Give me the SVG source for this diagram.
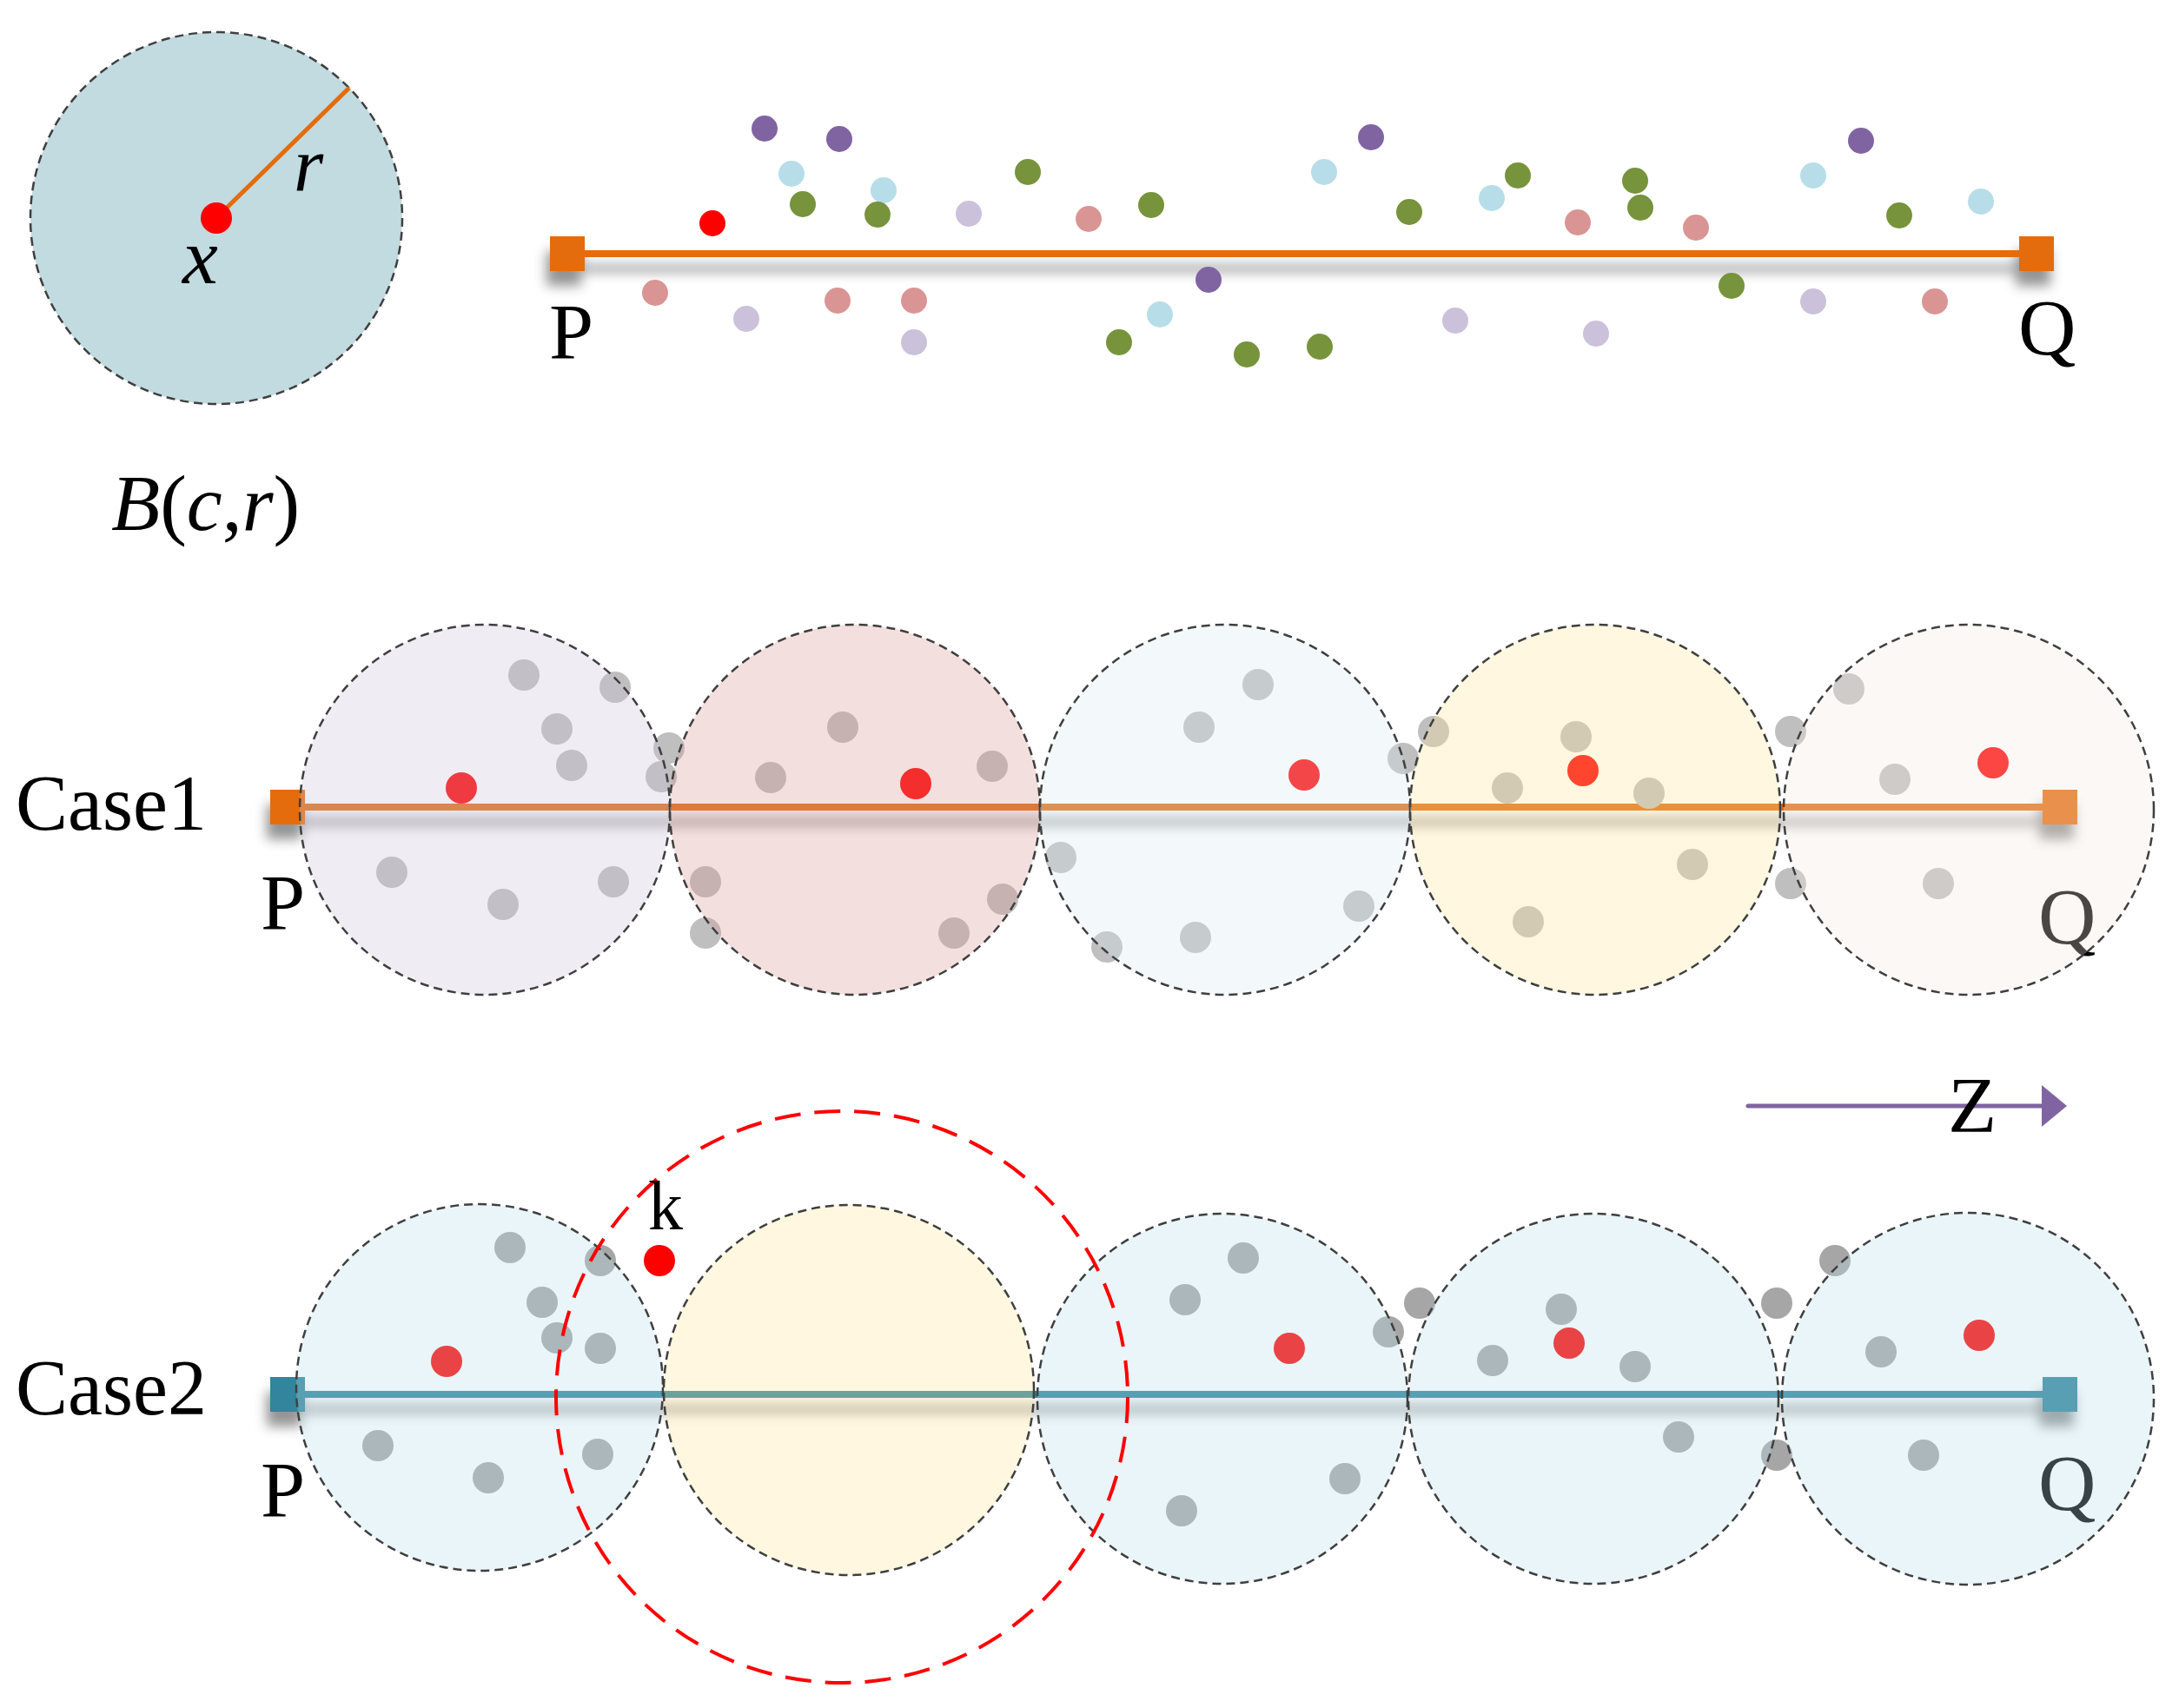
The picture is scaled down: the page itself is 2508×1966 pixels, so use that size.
<svg xmlns="http://www.w3.org/2000/svg" width="2508" height="1966" viewBox="0 0 2508 1966">
<style>
.t{font-family:"Liberation Serif","Times New Roman",serif;fill:#000}
.it{font-style:italic}
.ball{stroke:#3f3f3f;stroke-width:2.5;stroke-dasharray:10 6}
.g1{fill:#bfbfbf}
.g2{fill:#a6a6a6}
.rd{fill:#ff0000}
.pu{fill:#8064a2}
.lb{fill:#b7dee8}
.gr{fill:#77933c}
.lp{fill:#ccc1da}
.sa{fill:#d99594}
</style>
<defs>
<filter id="sh" x="-5%" y="-150%" width="110%" height="450%">
<feGaussianBlur in="SourceAlpha" stdDeviation="7"/>
<feOffset dx="-4" dy="17" result="b"/>
<feFlood flood-color="#000" flood-opacity="0.42"/>
<feComposite in2="b" operator="in"/>
<feMerge><feMergeNode/><feMergeNode in="SourceGraphic"/></feMerge>
</filter>
</defs>
<rect width="2508" height="1966" fill="#fff"/>

<g id="ball-legend">
<circle class="ball" cx="249" cy="251" r="214" fill="#c1dbe0"/>
<line x1="249" y1="251" x2="402" y2="101" stroke="#e46c0a" stroke-width="5"/>
<circle cx="249" cy="251" r="18" class="rd"/>
<text class="t it" x="338" y="219" font-size="88">r</text>
<text class="t it" x="210" y="326" font-size="92">x</text>
<text class="t" x="128" y="610" font-size="92"><tspan font-style="italic">B</tspan>(<tspan font-style="italic">c</tspan>,<tspan font-style="italic">r</tspan>)</text>
</g>

<g id="top-segment">
<g filter="url(#sh)">
<line x1="653" y1="292" x2="2344" y2="292" stroke="#e46c0a" stroke-width="8"/>
<rect x="633" y="272" width="40" height="40" fill="#e46c0a"/>
<rect x="2324" y="272" width="40" height="40" fill="#e46c0a"/>
</g>
<text class="t" x="632" y="413" font-size="92">P</text>
<text class="t" x="2323" y="408" font-size="92">Q</text>
</g>

<g id="top-points">
<circle class="pu" cx="880" cy="148" r="15"/>
<circle class="pu" cx="966" cy="160" r="15"/>
<circle class="pu" cx="1578" cy="158" r="15"/>
<circle class="pu" cx="2142" cy="162" r="15"/>
<circle class="pu" cx="1391" cy="322" r="15"/>
<circle class="lb" cx="911" cy="200" r="15"/>
<circle class="lb" cx="1017" cy="219" r="15"/>
<circle class="lb" cx="1335" cy="362" r="15"/>
<circle class="lb" cx="1524" cy="198" r="15"/>
<circle class="lb" cx="1717" cy="228" r="15"/>
<circle class="lb" cx="2087" cy="202" r="15"/>
<circle class="lb" cx="2280" cy="232" r="15"/>
<circle class="gr" cx="924" cy="235" r="15"/>
<circle class="gr" cx="1010" cy="247" r="15"/>
<circle class="gr" cx="1183" cy="198" r="15"/>
<circle class="gr" cx="1325" cy="236" r="15"/>
<circle class="gr" cx="1288" cy="394" r="15"/>
<circle class="gr" cx="1435" cy="408" r="15"/>
<circle class="gr" cx="1519" cy="399" r="15"/>
<circle class="gr" cx="1622" cy="244" r="15"/>
<circle class="gr" cx="1747" cy="202" r="15"/>
<circle class="gr" cx="1882" cy="208" r="15"/>
<circle class="gr" cx="1888" cy="239" r="15"/>
<circle class="gr" cx="2186" cy="248" r="15"/>
<circle class="gr" cx="1993" cy="329" r="15"/>
<circle class="lp" cx="1115" cy="246" r="15"/>
<circle class="lp" cx="859" cy="367" r="15"/>
<circle class="lp" cx="1052" cy="394" r="15"/>
<circle class="lp" cx="1675" cy="369" r="15"/>
<circle class="lp" cx="1837" cy="384" r="15"/>
<circle class="lp" cx="2087" cy="347" r="15"/>
<circle class="sa" cx="1253" cy="252" r="15"/>
<circle class="sa" cx="754" cy="337" r="15"/>
<circle class="sa" cx="964" cy="346" r="15"/>
<circle class="sa" cx="1052" cy="346" r="15"/>
<circle class="sa" cx="1816" cy="256" r="15"/>
<circle class="sa" cx="1952" cy="262" r="15"/>
<circle class="sa" cx="2227" cy="347" r="15"/>
<circle class="rd" cx="820" cy="257" r="15"/>
</g>

<g id="case1">
<text class="t" x="18" y="955" font-size="90">Case1</text>
<g filter="url(#sh)">
<line x1="331" y1="929" x2="2371" y2="929" stroke="#e46c0a" stroke-width="8"/>
<rect x="311" y="909" width="40" height="40" fill="#e46c0a"/>
<rect x="2351" y="909" width="40" height="40" fill="#e46c0a"/>
</g>
<text class="t" x="300" y="1070" font-size="92">P</text>
<text class="t" x="2346" y="1086" font-size="92">Q</text>
<g id="case1-points">
<circle class="g1" cx="603" cy="777" r="18"/>
<circle class="g1" cx="708" cy="791" r="18"/>
<circle class="g1" cx="641" cy="839" r="18"/>
<circle class="g1" cx="658" cy="881" r="18"/>
<circle class="g1" cx="770" cy="861" r="18"/>
<circle class="g1" cx="761" cy="894" r="18"/>
<circle class="g1" cx="451" cy="1004" r="18"/>
<circle class="g1" cx="579" cy="1041" r="18"/>
<circle class="g1" cx="706" cy="1015" r="18"/>
<circle class="g1" cx="970" cy="837" r="18"/>
<circle class="g1" cx="887" cy="895" r="18"/>
<circle class="g1" cx="1142" cy="882" r="18"/>
<circle class="g1" cx="812" cy="1015" r="18"/>
<circle class="g1" cx="812" cy="1074" r="18"/>
<circle class="g1" cx="1154" cy="1035" r="18"/>
<circle class="g1" cx="1098" cy="1074" r="18"/>
<circle class="g1" cx="1448" cy="788" r="18"/>
<circle class="g1" cx="1380" cy="837" r="18"/>
<circle class="g1" cx="1615" cy="873" r="18"/>
<circle class="g1" cx="1221" cy="987" r="18"/>
<circle class="g1" cx="1564" cy="1043" r="18"/>
<circle class="g1" cx="1376" cy="1079" r="18"/>
<circle class="g1" cx="1274" cy="1090" r="18"/>
<circle class="g1" cx="1650" cy="842" r="18"/>
<circle class="g1" cx="1814" cy="848" r="18"/>
<circle class="g1" cx="1735" cy="907" r="18"/>
<circle class="g1" cx="1898" cy="913" r="18"/>
<circle class="g1" cx="1948" cy="995" r="18"/>
<circle class="g1" cx="1759" cy="1061" r="18"/>
<circle class="g1" cx="2128" cy="793" r="18"/>
<circle class="g1" cx="2061" cy="842" r="18"/>
<circle class="g1" cx="2181" cy="897" r="18"/>
<circle class="g1" cx="2061" cy="1017" r="18"/>
<circle class="g1" cx="2231" cy="1017" r="18"/>
<circle class="rd" cx="531" cy="907" r="18"/>
<circle class="rd" cx="1054" cy="902" r="18"/>
<circle class="rd" cx="1501" cy="892" r="18"/>
<circle class="rd" cx="1822" cy="887" r="18"/>
<circle class="rd" cx="2294" cy="878" r="18"/>
</g>
<g id="case1-balls" fill-opacity="0.3">
<circle class="ball" cx="558" cy="932" r="213" fill="#ccc1da"/>
<circle class="ball" cx="984" cy="932" r="213" fill="#d99594"/>
<circle class="ball" cx="1410" cy="932" r="213" fill="#d7e8f2"/>
<circle class="ball" cx="1836" cy="932" r="213" fill="#ffe699"/>
<circle class="ball" cx="2266" cy="932" r="213" fill="#f5e8de"/>
</g>
</g>

<g id="connectors">
<line x1="2012" y1="1273" x2="2352" y2="1273" stroke="#8064a2" stroke-width="5" stroke-linecap="round"/>
<polygon points="2350,1249 2379,1273 2350,1297" fill="#8064a2"/>
</g>
<text class="t" x="2242" y="1303" font-size="92">Z</text>

<g id="case2">
<text class="t" x="18" y="1628" font-size="90">Case2</text>
<g filter="url(#sh)">
<line x1="331" y1="1605" x2="2371" y2="1605" stroke="#31859c" stroke-width="8"/>
<rect x="311" y="1585" width="40" height="40" fill="#31859c"/>
<rect x="2351" y="1585" width="40" height="40" fill="#31859c"/>
</g>
<text class="t" x="300" y="1746" font-size="92">P</text>
<text class="t" x="2346" y="1738" font-size="92">Q</text>
<g id="case2-points">
<circle class="g2" cx="587" cy="1436" r="18"/>
<circle class="g2" cx="691" cy="1451" r="18"/>
<circle class="g2" cx="624" cy="1499" r="18"/>
<circle class="g2" cx="641" cy="1540" r="18"/>
<circle class="g2" cx="691" cy="1552" r="18"/>
<circle class="g2" cx="435" cy="1664" r="18"/>
<circle class="g2" cx="562" cy="1701" r="18"/>
<circle class="g2" cx="688" cy="1674" r="18"/>
<circle class="g2" cx="1431" cy="1448" r="18"/>
<circle class="g2" cx="1364" cy="1496" r="18"/>
<circle class="g2" cx="1598" cy="1533" r="18"/>
<circle class="g2" cx="1548" cy="1702" r="18"/>
<circle class="g2" cx="1360" cy="1739" r="18"/>
<circle class="g2" cx="1634" cy="1500" r="18"/>
<circle class="g2" cx="1797" cy="1507" r="18"/>
<circle class="g2" cx="1718" cy="1566" r="18"/>
<circle class="g2" cx="1882" cy="1573" r="18"/>
<circle class="g2" cx="1932" cy="1654" r="18"/>
<circle class="g2" cx="2045" cy="1500" r="18"/>
<circle class="g2" cx="2045" cy="1675" r="18"/>
<circle class="g2" cx="2112" cy="1451" r="18"/>
<circle class="g2" cx="2165" cy="1556" r="18"/>
<circle class="g2" cx="2214" cy="1675" r="18"/>
<circle class="rd" cx="514" cy="1567" r="18"/>
<circle class="rd" cx="1484" cy="1552" r="18"/>
<circle class="rd" cx="1806" cy="1546" r="18"/>
<circle class="rd" cx="2278" cy="1537" r="18"/>
</g>
<g id="case2-balls" fill-opacity="0.3">
<circle class="ball" cx="552" cy="1597" r="211" fill="#b7dee8"/>
<circle class="ball" cx="977" cy="1600" r="213" fill="#ffe699"/>
<circle class="ball" cx="1407" cy="1610" r="213" fill="#b7dee8"/>
<circle class="ball" cx="1834" cy="1610" r="213" fill="#b7dee8"/>
<circle class="ball" cx="2265" cy="1610" r="214" fill="#b7dee8"/>
</g>
<circle id="query-ball" cx="969" cy="1608" r="329" fill="none" stroke="#ff0000" stroke-width="4" stroke-dasharray="30 16"/>
<circle id="k-point" class="rd" cx="759" cy="1451" r="18"/>
<text class="t" x="746" y="1415" font-size="80">k</text>
</g>
</svg>
